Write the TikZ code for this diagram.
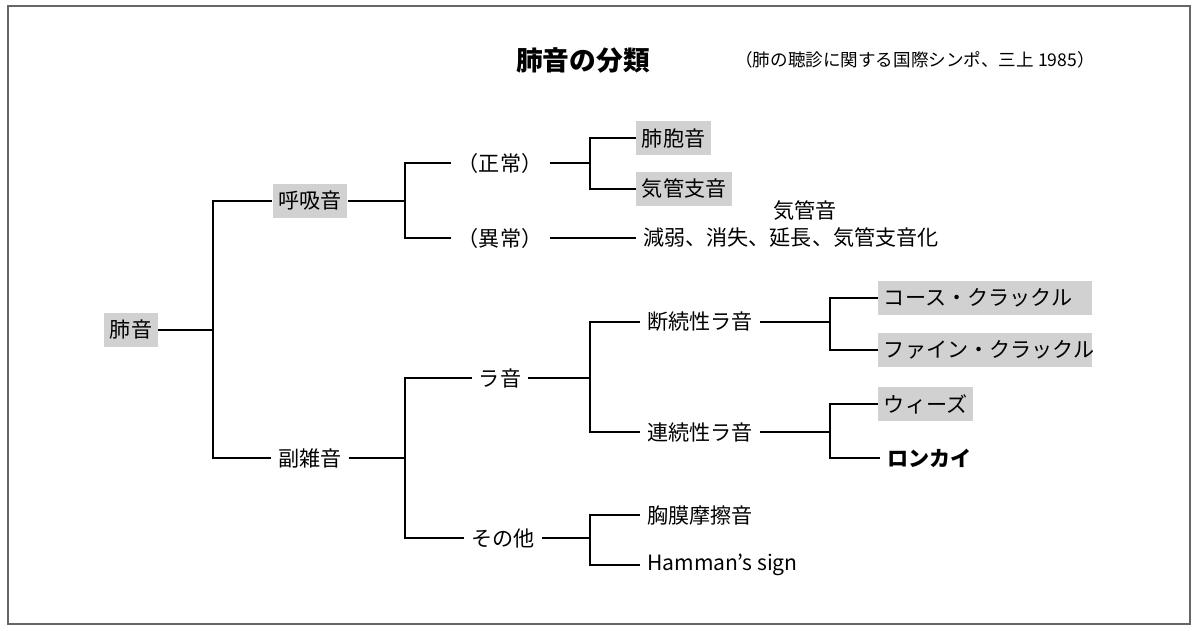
\documentclass[tikz,border=0pt]{standalone}
\usepackage{fontspec}
\setmainfont{Noto Sans CJK JP}
\usetikzlibrary{positioning}
\tikzset{
  lbl/.style={inner sep=5pt, font=\fontsize{15}{18}\selectfont},
  grey/.style={lbl, fill=black!18, inner sep=4pt, minimum height=0.85cm},
  wide/.style={grey, text width=5.05cm, align=left},
  tree/.style={line width=1pt, black}
}
\begin{document}
\begin{tikzpicture}[x=0.025cm, y=-0.025cm]
        \useasboundingbox (0,0) rectangle (1200,630);
        \draw [black!60, line width=0.8pt] (8,6) rectangle (1190,624);
        % title
        \node (title) at (583,60) [font=\fontsize{19}{22}\selectfont\bfseries] {肺音の分類};
        \node (sub) at (915,60) [font=\fontsize{12.5}{15}\selectfont] {（肺の聴診に関する国際シンポ、三上 1985）};
        % nodes
        \node (haion) at (131,330) [grey] {肺音};
        \node (kokyu) at (310,201) [grey] {呼吸音};
        \node (fuku) at (310,458) [lbl] {副雑音};
        \node (seijo) at (500,163) [lbl] {（正常）};
        \node (ijo) at (500,238) [lbl] {（異常）};
        \node (hoho) at (636,138) [grey, anchor=west] {肺胞音};
        \node (kikan) at (636,189) [grey, anchor=west] {気管支音};
        \node (ijolist) at (636,238) [lbl, anchor=west] {減弱、消失、延長、気管支音化};
        \node (kikanon) at (805,211) [lbl] {気管音};
        \node (raon) at (500,378) [lbl] {ラ音};
        \node (sonota) at (503,538) [lbl] {その他};
        \node (danzoku) at (640,322) [lbl, anchor=west] {断続性ラ音};
        \node (renzoku) at (640,432) [lbl, anchor=west] {連続性ラ音};
        \node (kyomaku) at (640,515) [lbl, anchor=west] {胸膜摩擦音};
        \node (hamman) at (640,565) [lbl, anchor=west] {Hamman’s sign};
        \node (coarse) at (878,298) [wide, anchor=west] {コース・クラックル};
        \node (fine) at (878,350) [wide, anchor=west] {ファイン・クラックル};
        \node (wheeze) at (878,404) [grey, anchor=west] {ウィーズ};
        \node (ronkai) at (880,458) [lbl, anchor=west, font=\fontsize{15}{18}\selectfont\bfseries] {ロンカイ};
        % junctions
        \coordinate (j1) at (213,330);
        \coordinate (j2) at (405,201);
        \coordinate (j3) at (405,458);
        \coordinate (j4) at (590,163);
        \coordinate (j5) at (590,378);
        \coordinate (j6) at (590,538);
        \coordinate (j7) at (830,322);
        \coordinate (j8) at (830,432);
        % connectors
        \draw [tree] (haion) -- (j1);
        \draw [tree] (j1) |- (kokyu.west);
        \draw [tree] (j1) |- (fuku.west);
        \draw [tree] (kokyu) -- (j2);
        \draw [tree] (j2) |- (seijo.west);
        \draw [tree] (j2) |- (ijo.west);
        \draw [tree] (ijo) -- (ijolist);
        \draw [tree] (seijo) -- (j4);
        \draw [tree] (j4) |- (hoho.west);
        \draw [tree] (j4) |- (kikan.west);
        \draw [tree] (fuku) -- (j3);
        \draw [tree] (j3) |- (raon.west);
        \draw [tree] (j3) |- (sonota.west);
        \draw [tree] (raon) -- (j5);
        \draw [tree] (j5) |- (danzoku.west);
        \draw [tree] (j5) |- (renzoku.west);
        \draw [tree] (sonota) -- (j6);
        \draw [tree] (j6) |- (kyomaku.west);
        \draw [tree] (j6) |- (hamman.west);
        \draw [tree] (danzoku) -- (j7);
        \draw [tree] (j7) |- (coarse.west);
        \draw [tree] (j7) |- (fine.west);
        \draw [tree] (renzoku) -- (j8);
        \draw [tree] (j8) |- (wheeze.west);
        \draw [tree] (j8) |- (ronkai.west);
    \end{tikzpicture}
\end{document}
